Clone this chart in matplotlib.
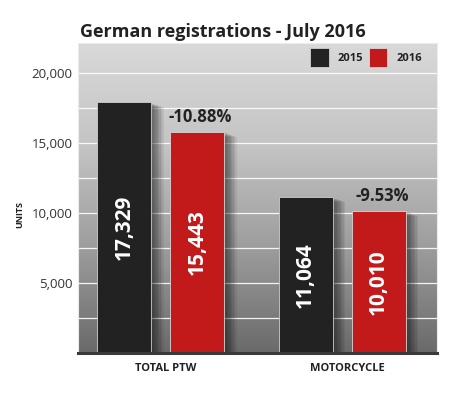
import numpy as np
import matplotlib.pyplot as plt
import matplotlib.patheffects as pe
from matplotlib.colors import LinearSegmentedColormap

plt.rcParams['font.family'] = ['Open Sans', 'DejaVu Sans']

# data
categories = ['TOTAL PTW', 'MOTORCYCLE']
units_2015 = [17329, 11064]
units_2016 = [15443, 10010]
# bar heights as drawn in the original graphic
bar_top_2015 = [17900, 11150]
bar_top_2016 = [15800, 10150]
yticks = [5000, 10000, 15000, 20000]
grid_lines = [2500, 5000, 7500, 10000, 12500, 15000, 17500, 20000]

fig = plt.figure(figsize=(4.54, 3.97), dpi=100)
ax = fig.add_axes([0.1718, 0.1108, 0.7907, 0.7809])
xlim = (-0.455, 1.523)
ylim = (0, 22143)
ax.set_xlim(*xlim)
ax.set_ylim(*ylim)

# grey gradient background
bg = LinearSegmentedColormap.from_list('bg', ['#6a6a6a', '#9c9c9c', '#c4c4c4', '#d9d9d9'])
ax.imshow(np.linspace(0, 1, 256).reshape(-1, 1), extent=[*xlim, *ylim], aspect='auto',
          cmap=bg, origin='lower', zorder=0)

for g in grid_lines:
    ax.axhline(g, color='white', lw=0.9, alpha=0.9, zorder=1)

x = np.arange(len(categories))
w = 0.2975
off = 0.201
# soft drop shadow built from several faint offset copies
shadow = [pe.SimplePatchShadow(offset=(k, -0.4 * k), shadow_rgbFace='black', alpha=0.07)
          for k in (9, 8, 7, 6, 5, 4, 3, 2, 1)] + [pe.Normal()]

b1 = ax.bar(x - off, bar_top_2015, w, color='#222222', edgecolor='#cfcfcf', linewidth=0.6,
            zorder=3, label='2015')
b2 = ax.bar(x + off, bar_top_2016, w, color='#c21a1b', edgecolor='#d8d8d8', linewidth=0.6,
            zorder=3, label='2016')
for bar in list(b1) + list(b2):
    bar.set_path_effects(shadow)

for i in range(len(categories)):
    ax.text(x[i] - off, bar_top_2015[i] / 2, f'{units_2015[i]:,}', rotation=90, ha='center',
            va='center', color='white', fontsize=15, fontweight='bold', zorder=4)
    ax.text(x[i] + off, bar_top_2016[i] / 2, f'{units_2016[i]:,}', rotation=90, ha='center',
            va='center', color='white', fontsize=15, fontweight='bold', zorder=4)
    pct = (units_2016[i] - units_2015[i]) / units_2015[i] * 100
    ax.text(x[i] + off + 0.02, bar_top_2016[i] + 1050, f'{pct:.2f}%', ha='center', va='center',
            color='#222222', fontsize=12, fontweight='bold', zorder=4)

ax.set_yticks(yticks)
ax.set_yticklabels([f'{t:,}' for t in yticks], fontsize=9.5, color='#333333')
ax.set_xticks(x + 0.03)
ax.set_xticklabels(categories, fontsize=8, fontweight='bold', color='#222222')
ax.tick_params(axis='y', length=0, pad=4)
ax.tick_params(axis='x', length=0, pad=7)

for s in ['top', 'left', 'right']:
    ax.spines[s].set_color('#ececec')
    ax.spines[s].set_linewidth(0.8)
ax.spines['bottom'].set_color('#3a3a3a')
ax.spines['bottom'].set_linewidth(2.2)
ax.spines['bottom'].set_zorder(5)

leg = ax.legend(loc='upper right', bbox_to_anchor=((422 - 78) / 359, (353 - 48) / 310),
                ncol=2, frameon=False, fontsize=8, handlelength=1.7, handleheight=2.2,
                handletextpad=0.8, columnspacing=0.5, borderaxespad=0, borderpad=0)
for h in leg.legend_handles:
    h.set_path_effects([])
for t in leg.get_texts():
    t.set_fontweight('bold')
    t.set_color('#222222')

fig.text(20 / 454, 1 - 215 / 397, 'UNITS', rotation=90, ha='center', va='center',
         fontsize=6.5, fontweight='bold', color='#222222')
fig.text(80 / 454, 1 - 32 / 397, 'German registrations - July 2016', ha='left', va='center',
         fontsize=13, fontweight='bold', color='#222222')

fig.savefig('out.png', dpi=100)
